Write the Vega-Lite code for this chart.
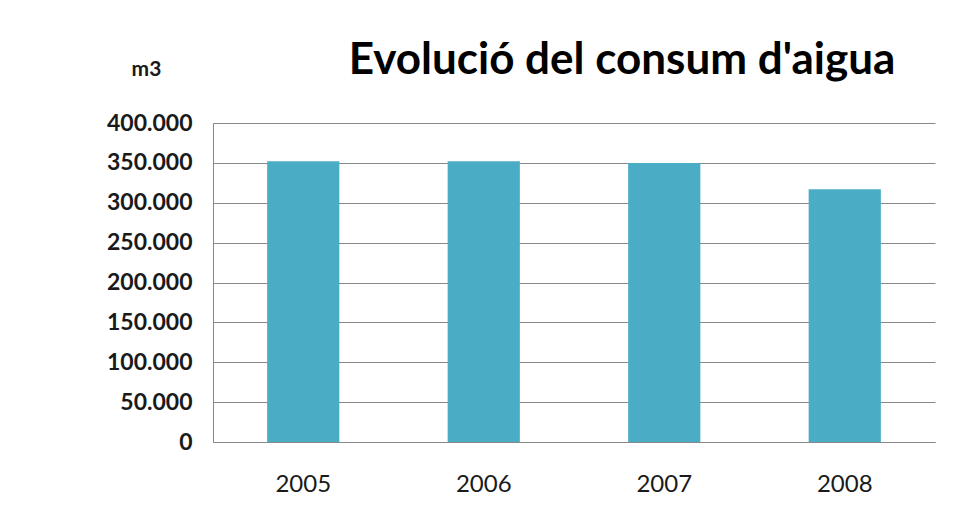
{
  "$schema": "https://vega.github.io/schema/vega-lite/v6.json",
  "autosize": "none",
  "padding": {"left": 213, "top": 123, "right": 20, "bottom": 80},
  "width": 722,
  "height": 319,
  "background": "white",
  "title": {
    "text": "Evolució del consum d'aigua",
    "font": "Lato",
    "fontSize": 44,
    "fontWeight": "bold",
    "color": "#000000",
    "anchor": "middle",
    "dx": 48,
    "offset": -60,
    "baseline": "alphabetic"
  },
  "data": {
    "values": [
      {"any": "2005", "consum": 352000},
      {"any": "2006", "consum": 352000},
      {"any": "2007", "consum": 350000},
      {"any": "2008", "consum": 317000}
    ]
  },
  "mark": {"type": "bar", "color": "#4BACC6"},
  "encoding": {
    "x": {
      "field": "any",
      "type": "ordinal",
      "scale": {"paddingInner": 0.6, "paddingOuter": 0.3},
      "axis": {
        "title": null,
        "labelAngle": 0,
        "labelFont": "Lato",
        "labelFontSize": 24,
        "labelColor": "#1a1a1a",
        "labelPadding": 30,
        "ticks": false,
        "tickSize": 0,
        "domainColor": "#888888",
        "domainWidth": 1,
        "grid": false
      }
    },
    "y": {
      "field": "consum",
      "type": "quantitative",
      "scale": {"domain": [0, 400000], "nice": false},
      "axis": {
        "values": [0, 50000, 100000, 150000, 200000, 250000, 300000, 350000, 400000],
        "format": ",d",
        "title": "m3",
        "titleAngle": 0,
        "titleAlign": "center",
        "titleBaseline": "middle",
        "titleX": -67,
        "titleY": -54,
        "titleFont": "Lato",
        "titleFontSize": 21,
        "titleFontWeight": "bold",
        "titleColor": "#1a1a1a",
        "labelFont": "Lato",
        "labelFontSize": 23,
        "labelFontWeight": "bold",
        "labelColor": "#1a1a1a",
        "labelPadding": 21,
        "ticks": false,
        "tickSize": 0,
        "domainColor": "#888888",
        "domainWidth": 1,
        "grid": true,
        "gridColor": "#888888",
        "gridWidth": 1,
        "gridOpacity": 1
      }
    }
  },
  "config": {
    "locale": {
      "number": {"decimal": ",", "thousands": ".", "grouping": [3], "currency": ["", " €"]}
    },
    "view": {"stroke": null},
    "axis": {"labelLimit": 0}
  }
}
